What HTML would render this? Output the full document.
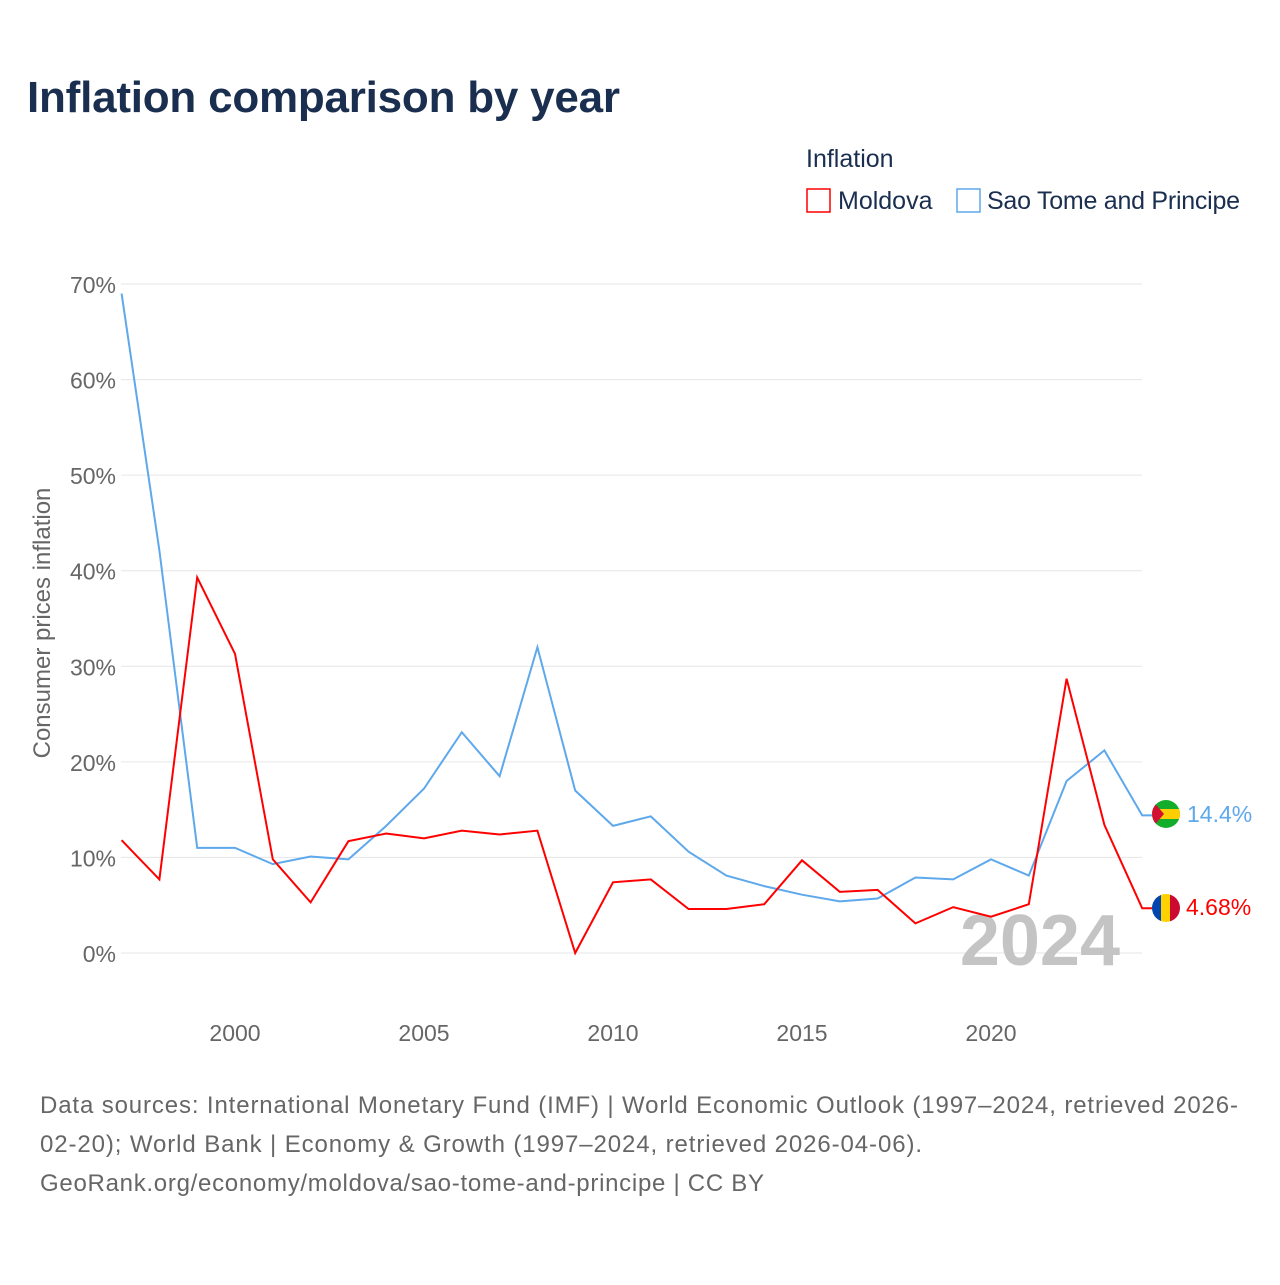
<!DOCTYPE html>
<html><head><meta charset="utf-8"><style>
body{margin:0;width:1280px;height:1280px;background:#fff;font-family:"Liberation Sans",sans-serif;overflow:hidden}
</style></head><body>
<svg width="1280" height="1280">
<text x="27" y="112" font-size="44" font-weight="bold" fill="#1a2e4f" textLength="593">Inflation comparison by year</text>
<text x="806" y="167" font-size="25" fill="#1a2e4f">Inflation</text>
<g><rect x="807" y="189" width="23" height="23" fill="none" stroke="#f00" stroke-width="1.5"/><text x="838" y="209" font-size="25" fill="#1a2e4f">Moldova</text></g>
<g><rect x="957" y="189" width="23" height="23" fill="none" stroke="#5ea8ec" stroke-width="1.5"/><text x="987" y="209" font-size="25" fill="#1a2e4f" textLength="253">Sao Tome and Principe</text></g>
<g id="grid"></g><g id="yt"></g><g id="xt"></g>
<text x="1120" y="965" text-anchor="end" font-size="72" font-weight="bold" fill="#c4c4c4">2024</text>
<text transform="translate(50,623) rotate(-90)" text-anchor="middle" font-size="24" fill="#666">Consumer prices inflation</text>
<g id="lines"></g>
<g><clipPath id="c1"><circle cx="1166" cy="814" r="14"/></clipPath><g clip-path="url(#c1)"><rect x="1152" y="800" width="28" height="28" fill="#12ad2b"/><rect x="1152" y="809" width="28" height="10" fill="#ffce00"/><polygon points="1152,800 1164,814 1152,828" fill="#d21034"/></g></g>
<g><clipPath id="c2"><circle cx="1166" cy="908" r="14"/></clipPath><g clip-path="url(#c2)"><rect x="1152" y="894" width="10" height="28" fill="#0046ae"/><rect x="1161" y="894" width="10" height="28" fill="#ffd200"/><rect x="1170" y="894" width="10" height="28" fill="#cc092f"/></g></g>
<text x="1187" y="822" font-size="23" fill="#5ea8ec">14.4%</text>
<text x="1186" y="915" font-size="23" fill="#f00">4.68%</text>
<g font-size="24" fill="#666">
<text x="40" y="1113" textLength="1198">Data sources: International Monetary Fund (IMF) | World Economic Outlook (1997–2024, retrieved 2026-</text>
<text x="40" y="1152" textLength="882">02-20); World Bank | Economy &amp; Growth (1997–2024, retrieved 2026-04-06).</text>
<text x="40" y="1191" textLength="724">GeoRank.org/economy/moldova/sao-tome-and-principe | CC BY</text></g>
</svg>
<script>
const years=[1997,1998,1999,2000,2001,2002,2003,2004,2005,2006,2007,2008,2009,2010,2011,2012,2013,2014,2015,2016,2017,2018,2019,2020,2021,2022,2023,2024];
const moldova=[11.8,7.7,39.3,31.3,9.8,5.3,11.7,12.5,12.0,12.8,12.4,12.8,0.0,7.4,7.7,4.6,4.6,5.1,9.7,6.4,6.6,3.1,4.8,3.8,5.1,28.7,13.4,4.68];
const stp=[69.0,42.1,11.0,11.0,9.3,10.1,9.8,13.3,17.2,23.1,18.5,32.0,17.0,13.3,14.3,10.6,8.1,7.0,6.1,5.4,5.7,7.9,7.7,9.8,8.1,18.0,21.2,14.4];
const yTicks=[0,10,20,30,40,50,60,70];
const xTicks=[2000,2005,2010,2015,2020];
const NS='http://www.w3.org/2000/svg';
const X=y=>121.6+(y-1997)*37.8, Y=v=>953-v*9.557;
function mk(t,a,p){const e=document.createElementNS(NS,t);for(const k in a)e.setAttribute(k,a[k]);p.appendChild(e);return e;}
const g=document.getElementById('grid'),yt=document.getElementById('yt'),xt=document.getElementById('xt'),L=document.getElementById('lines');
yTicks.forEach(v=>{const l=mk('line',{x1:121,x2:1142,y1:Y(v),y2:Y(v),stroke:'#e6e6e6'},g);


const t=mk('text',{x:116,y:Y(v)+9,'text-anchor':'end','font-size':23,fill:'#666'},yt);t.textContent=v+'%';

});
xTicks.forEach(v=>{const t=mk('text',{x:X(v),y:1041,'text-anchor':'middle','font-size':23,fill:'#666'},xt);t.textContent=v;

});
function line(d,c,n){let pts=d.map((v,i)=>X(years[i])+','+Y(v)).join(' ');pts+=' '+(X(years[years.length-1])+10)+','+Y(d[d.length-1]);
const p=mk('polyline',{points:pts,fill:'none',stroke:c,'stroke-width':2},L);

}
line(stp,'#5ea8ec','line-sao-tome');
line(moldova,'#f00','line-moldova');
</script>
</body></html>
